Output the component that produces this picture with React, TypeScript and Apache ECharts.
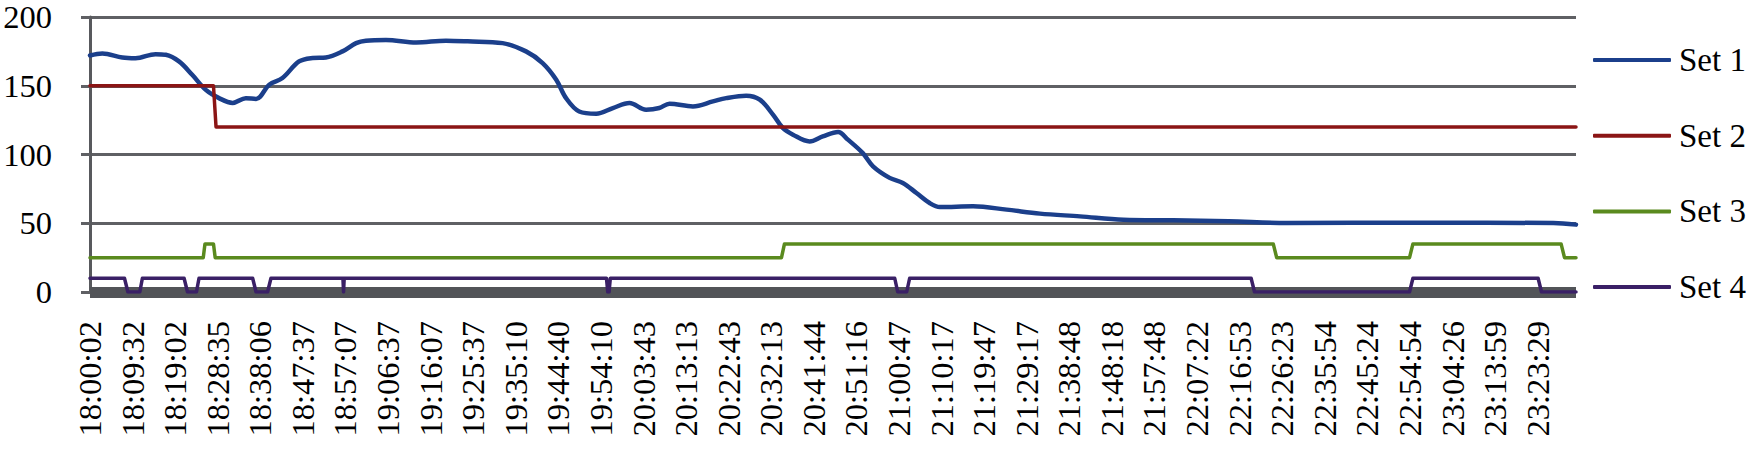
import React, { useEffect, useRef } from "react";
import * as echarts from "echarts";

// X positions are expressed in "tick-label units": 0 = first label, 1 = second label, ...
const tickLabels = [
  "18:00:02", "18:09:32", "18:19:02", "18:28:35", "18:38:06", "18:47:37", "18:57:07",
  "19:06:37", "19:16:07", "19:25:37", "19:35:10", "19:44:40", "19:54:10", "20:03:43",
  "20:13:13", "20:22:43", "20:32:13", "20:41:44", "20:51:16", "21:00:47", "21:10:17",
  "21:19:47", "21:29:17", "21:38:48", "21:48:18", "21:57:48", "22:07:22", "22:16:53",
  "22:26:23", "22:35:54", "22:45:24", "22:54:54", "23:04:26", "23:13:59", "23:23:29",
];

const xEnd = 34.9;

const set1: [number, number][] = [
  [0, 172], [0.29, 173.5], [0.76, 170.5], [1.07, 170], [1.54, 173], [1.78, 172.5],
  [2.09, 167.7], [2.4, 158], [2.72, 147], [3.03, 141], [3.35, 137.5], [3.66, 141],
  [3.9, 140.4], [4.21, 150.8], [4.52, 155.6], [4.91, 167.7], [5.23, 170.2], [5.54, 170.6],
  [5.93, 175], [6.25, 181], [6.48, 182.8], [6.95, 183.3], [7.66, 181.5], [8.36, 182.8],
  [8.87, 182.3], [9.69, 181], [10.24, 175], [10.63, 166.5], [10.95, 154.4], [11.18, 141],
  [11.49, 131.3], [11.89, 129.7], [12.28, 133.8], [12.67, 137.5], [13.06, 132.6],
  [13.37, 133.8], [13.61, 137], [14.16, 135], [14.63, 138.6], [14.94, 141], [15.41, 142.8],
  [15.73, 139.9], [16.04, 129], [16.27, 119.3], [16.51, 114.4], [16.9, 109.5], [17.21, 113.2],
  [17.57, 116.4], [17.8, 110.8], [18.15, 101], [18.39, 91.4], [18.78, 83], [19.09, 79.3],
  [19.41, 72], [19.72, 64.7], [19.96, 61.8], [20.74, 62.3], [21.53, 59.9], [22.31, 57],
  [23.25, 55], [24.27, 52.6], [25.44, 52.1], [26.74, 51.4], [28.11, 50.2], [31.24, 50.4],
  [34.37, 50.2], [34.9, 49],
];

const set2: [number, number][] = [
  [0, 150], [2.9, 150], [2.96, 120], [xEnd, 120],
];

const set3: [number, number][] = [
  [0, 25], [2.66, 25], [2.7, 35], [2.9, 35], [2.94, 25], [16.24, 25], [16.31, 35],
  [27.79, 35], [27.87, 25], [30.99, 25], [31.07, 35], [34.55, 35], [34.63, 25], [xEnd, 25],
];

const set4: [number, number][] = [
  [0, 10], [0.81, 10], [0.89, 0], [1.17, 0], [1.23, 10], [2.21, 10], [2.29, 0], [2.5, 0],
  [2.56, 10], [3.82, 10], [3.9, 0], [4.17, 0], [4.25, 10], [5.94, 10], [5.955, 0], [5.97, 10],
  [12.13, 10], [12.16, 0], [12.19, 0], [12.22, 10], [18.9, 10], [18.97, 0], [19.18, 0],
  [19.25, 10], [27.27, 10], [27.35, 0], [30.99, 0], [31.07, 10], [34.01, 10], [34.09, 0],
  [xEnd, 0],
];

const seriesNames = ["Set 1", "Set 2", "Set 3", "Set 4"];
const seriesColors = ["#1B3F8B", "#8B1515", "#5A8A1E", "#3A2066"];

const FONT = "'Liberation Serif', 'Times New Roman', serif";

export default function App() {
  const ref = useRef<HTMLDivElement>(null);

  useEffect(() => {
    if (!ref.current) return;
    const chart = echarts.init(ref.current, undefined, { renderer: "svg" });
    const datasets = [set1, set2, set3, set4];
    chart.setOption({
      animation: false,
      backgroundColor: "#ffffff",
      grid: { left: 90, right: 174, top: 17, bottom: 159, containLabel: false },
      legend: {
        orient: "vertical",
        left: 1588,
        top: 38,
        itemWidth: 78,
        itemHeight: 4,
        itemGap: 41.7,
        icon: "roundRect",
        data: seriesNames,
        textStyle: {
          fontFamily: FONT,
          fontSize: 33,
          lineHeight: 34,
          color: "#000",
          padding: [0, 0, 0, 3],
        },
      },
      xAxis: {
        type: "value",
        min: 0,
        max: xEnd,
        interval: 1,
        offset: 6,
        axisLine: { show: true, lineStyle: { color: "#525458", width: 11, cap: "butt" } },
        axisTick: { show: false },
        splitLine: { show: false },
        axisLabel: {
          rotate: 90,
          margin: 23,
          fontFamily: FONT,
          fontSize: 32.5,
          color: "#000",
          showMaxLabel: false,
          formatter: (v: number) => {
            const i = Math.round(v);
            if (Math.abs(v - i) > 0.01) return "";
            return tickLabels[i] ?? "";
          },
        },
      },
      yAxis: {
        type: "value",
        min: 0,
        max: 200,
        interval: 50,
        axisLine: { show: true, lineStyle: { color: "#58595D", width: 3 } },
        axisTick: { show: true, length: 9, lineStyle: { color: "#5F6064", width: 3 } },
        splitLine: { show: true, lineStyle: { color: "#5F6064", width: 3 } },
        axisLabel: {
          margin: 38,
          fontFamily: FONT,
          fontSize: 32.5,
          color: "#000",
        },
      },
      series: datasets.map((d, i) => ({
        name: seriesNames[i],
        type: "line",
        data: d,
        showSymbol: false,
        symbol: "none",
        smooth: i === 0 ? 0.35 : false,
        color: seriesColors[i],
        lineStyle: {
          color: seriesColors[i],
          width: i === 0 ? 4.5 : 3.5,
          cap: "round",
          join: "round",
        },
        z: 2 + i,
      })),
    });
    return () => chart.dispose();
  }, []);

  return (
    <div
      ref={ref}
      style={{ position: "absolute", left: 0, top: 0, width: 1750, height: 451 }}
    />
  );
}
